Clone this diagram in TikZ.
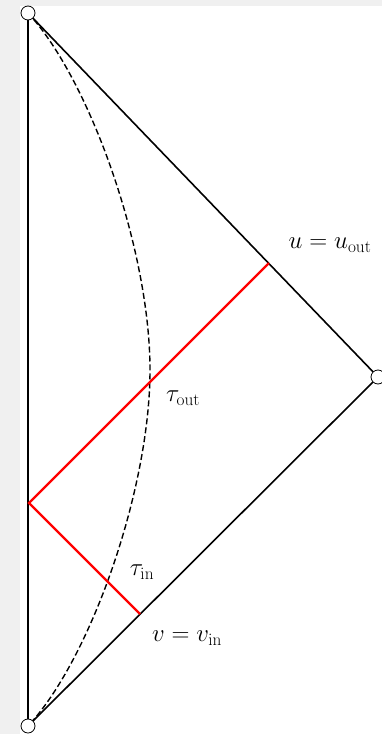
\documentclass[tikz,border=0pt]{standalone}
\usepackage{amsmath}
\usetikzlibrary{positioning}

\begin{document}
\begin{tikzpicture}[x=1pt, y=-1pt,
    vtx/.style={circle, draw, fill=white, line width=0.8pt, inner sep=0pt, minimum size=14pt},
    edge/.style={line width=1.6pt},
    axis/.style={line width=2.4pt},
    obs/.style={dashed, line width=1.4pt, dash pattern=on 6pt off 3pt},
    sig/.style={red, line width=2.2pt},
    lbl/.style={font=\fontsize{24}{28}\selectfont, inner sep=0pt}]
  % background
  \fill[black!6] (0,0) rectangle (382,734);
  \fill[white] (20,6) rectangle (382,734);
  \useasboundingbox (0,0) rectangle (382,734);
  % corners of the diagram
  \coordinate (t) at (28,13);
  \coordinate (b) at (28,726);
  \coordinate (r) at (378,377);
  \draw[axis] (t) -- (b);
  \draw[edge] (t) -- (r) -- (b);
  % observer worldline
  \draw[obs] (t) .. controls (90,80) and (150,250) .. (150,370)
                 .. controls (150,490) and (90,660) .. (b);
  % signal
  \coordinate (c) at (29,503);
  \coordinate (uo) at (269,263);
  \coordinate (vi) at (140,614);
  \draw[sig] (uo) -- (c) -- (vi);
  \node[vtx] (top) at (t) {};
  \node[vtx] (bot) at (b) {};
  \node[vtx] (rgt) at (r) {};
  % labels
  \node[lbl] (lu) at (330,245) {$u = u_{\mathrm{out}}$};
  \node[lbl] (lto) at (183,398) {$\tau_{\mathrm{out}}$};
  \node[lbl] (lti) at (142,572) {$\tau_{\mathrm{in}}$};
  \node[lbl] (lv) at (187,638) {$v = v_{\mathrm{in}}$};
\end{tikzpicture}
\end{document}
